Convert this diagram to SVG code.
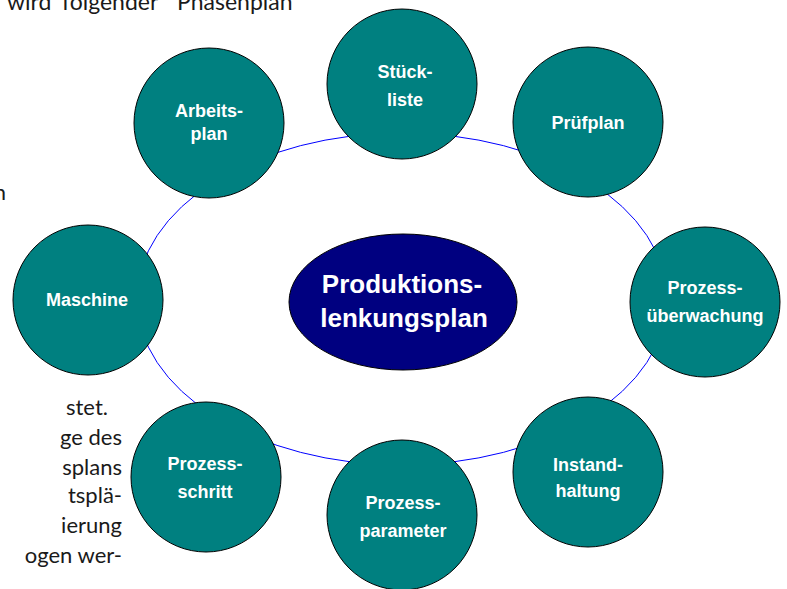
<svg xmlns="http://www.w3.org/2000/svg" width="787" height="589" viewBox="0 0 787 589">
<style>
.bg{font-family:Lato,"Open Sans","Liberation Sans",sans-serif;font-size:22px;fill:#1a1a1a}
.top{font-size:23px}
.node{fill:#008080;stroke:#000;stroke-width:1}
.lbl{font-family:"Liberation Sans",Arial,sans-serif;font-weight:bold;font-size:18px;fill:#fff;text-anchor:middle}
.center{fill:#000080;stroke:#000;stroke-width:1}
.clbl{font-family:"Liberation Sans",Arial,sans-serif;font-weight:bold;font-size:26px;fill:#fff;text-anchor:middle}
</style>
<rect width="787" height="589" fill="#fff"/>
<g id="background-text" class="bg">
<text class="top" x="7" y="10">wird</text>
<text class="top" x="62" y="10">folgender</text>
<text class="top" x="177" y="10">Phasenplan</text>
<text x="6" y="200" text-anchor="end">n</text>
<text x="108" y="415" text-anchor="end">stet.</text>
<text x="122" y="445" text-anchor="end">ge des</text>
<text x="122" y="475" text-anchor="end">splans</text>
<text x="122" y="503" text-anchor="end">tsplä-</text>
<text x="122" y="533" text-anchor="end">ierung</text>
<text x="122" y="563" text-anchor="end">ogen wer-</text>
</g>
<g id="connectors">
<ellipse cx="402" cy="299" rx="265" ry="166" fill="none" stroke="#0000ff" stroke-width="1"/>
</g>
<g id="arbeitsplan"><circle class="node" cx="209" cy="123" r="75"/><text class="lbl" x="209" y="117">Arbeits-</text><text class="lbl" x="209" y="140">plan</text></g>
<g id="stueckliste"><circle class="node" cx="402" cy="84" r="75"/><text class="lbl" x="405" y="78">Stück-</text><text class="lbl" x="405" y="106">liste</text></g>
<g id="pruefplan"><circle class="node" cx="588" cy="122" r="75"/><text class="lbl" x="588" y="129">Prüfplan</text></g>
<g id="prozessueberwachung"><circle class="node" cx="705" cy="302" r="75"/><text class="lbl" x="705" y="294">Prozess-</text><text class="lbl" x="705" y="322">überwachung</text></g>
<g id="instandhaltung"><circle class="node" cx="588" cy="472" r="75"/><text class="lbl" x="588" y="471">Instand-</text><text class="lbl" x="588" y="497">haltung</text></g>
<g id="prozessparameter"><circle class="node" cx="402" cy="515" r="75"/><text class="lbl" x="403" y="509">Prozess-</text><text class="lbl" x="403" y="537">parameter</text></g>
<g id="prozessschritt"><circle class="node" cx="206" cy="477" r="75"/><text class="lbl" x="205" y="470">Prozess-</text><text class="lbl" x="205" y="498">schritt</text></g>
<g id="maschine"><circle class="node" cx="88" cy="300" r="75"/><text class="lbl" x="87" y="306">Maschine</text></g>
<g id="produktionslenkungsplan"><ellipse class="center" cx="403" cy="302" rx="114" ry="68"/><text class="clbl" x="402" y="293">Produktions-</text><text class="clbl" x="404" y="327">lenkungsplan</text></g>
</svg>
